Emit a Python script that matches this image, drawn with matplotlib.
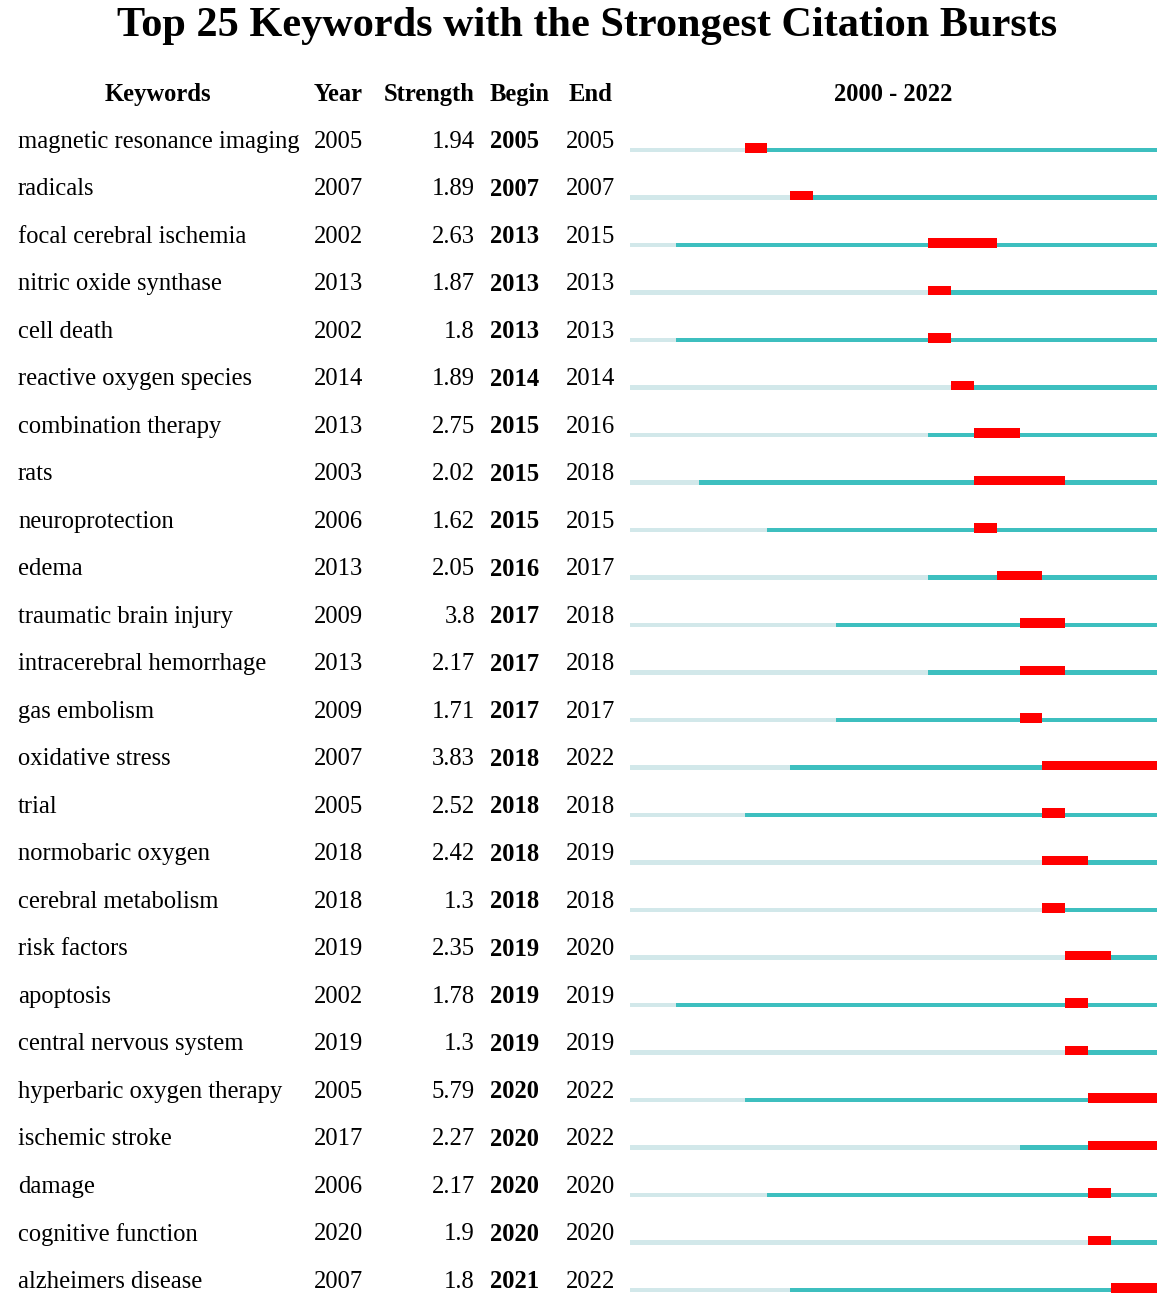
import matplotlib
matplotlib.use('Agg')
import matplotlib.pyplot as plt

# Datos de la tabla de ráfagas de citas
keywords = ['magnetic resonance imaging', 'radicals', 'focal cerebral ischemia',
            'nitric oxide synthase', 'cell death', 'reactive oxygen species',
            'combination therapy', 'rats', 'neuroprotection', 'edema',
            'traumatic brain injury', 'intracerebral hemorrhage', 'gas embolism',
            'oxidative stress', 'trial', 'normobaric oxygen', 'cerebral metabolism',
            'risk factors', 'apoptosis', 'central nervous system',
            'hyperbaric oxygen therapy', 'ischemic stroke', 'damage',
            'cognitive function', 'alzheimers disease']
years = [2005, 2007, 2002, 2013, 2002, 2014, 2013, 2003, 2006, 2013,
         2009, 2013, 2009, 2007, 2005, 2018, 2018, 2019, 2002, 2019,
         2005, 2017, 2006, 2020, 2007]
strength = ['1.94', '1.89', '2.63', '1.87', '1.8', '1.89', '2.75', '2.02', '1.62', '2.05',
            '3.8', '2.17', '1.71', '3.83', '2.52', '2.42', '1.3', '2.35', '1.78', '1.3',
            '5.79', '2.27', '2.17', '1.9', '1.8']
begin = [2005, 2007, 2013, 2013, 2013, 2014, 2015, 2015, 2015, 2016,
         2017, 2017, 2017, 2018, 2018, 2018, 2018, 2019, 2019, 2019,
         2020, 2020, 2020, 2020, 2021]
end = [2005, 2007, 2015, 2013, 2013, 2014, 2016, 2018, 2015, 2017,
       2018, 2018, 2017, 2022, 2018, 2019, 2018, 2020, 2019, 2019,
       2022, 2022, 2020, 2020, 2022]
start_year, end_year = 2000, 2022

light = '#d2e8ea'
teal = '#3dbfbf'
red = '#ff0000'

W, H = 1170, 1311
fig = plt.figure(figsize=(W / 100, H / 100), dpi=100)

# filas: pixel y = 150 + 47.5 * fila
y_top = (0 - 150) / 47.5
y_bot = (H - 150) / 47.5

ax = fig.add_axes([0, 0, 1, 1])
ax.set_xlim(0, W)
ax.set_ylim(y_bot, y_top)
ax.axis('off')

bx = fig.add_axes([630 / W, 0, 527 / W, 1])
bx.set_xlim(start_year, end_year + 1)
bx.set_ylim(y_bot, y_top)
bx.axis('off')

font = 'Liberation Serif'
fs = 17.7

ax.text(587, -2.62, 'Top 25 Keywords with the Strongest Citation Bursts',
        ha='center', va='center', fontsize=30.4, fontweight='bold', family=font)

hy = -1.16
ax.text(158, hy, 'Keywords', ha='center', va='center', fontsize=fs, fontweight='bold', family=font)
ax.text(314, hy, 'Year', ha='left', va='center', fontsize=fs, fontweight='bold', family=font)
ax.text(475, hy, 'Strength', ha='right', va='center', fontsize=fs, fontweight='bold', family=font)
ax.text(490, hy, 'Begin', ha='left', va='center', fontsize=fs, fontweight='bold', family=font)
ax.text(569, hy, 'End', ha='left', va='center', fontsize=fs, fontweight='bold', family=font)
ax.text(893, hy, '%d - %d' % (start_year, end_year), ha='center', va='center',
        fontsize=fs, fontweight='bold', family=font)

for i, kw in enumerate(keywords):
    ty = i - 0.17
    ax.text(18, ty, kw, ha='left', va='center', fontsize=fs, family=font)
    ax.text(314, ty, str(years[i]), ha='left', va='center', fontsize=fs, family=font)
    ax.text(475, ty, strength[i], ha='right', va='center', fontsize=fs, family=font)
    ax.text(490, ty, str(begin[i]), ha='left', va='center', fontsize=fs, fontweight='bold', family=font)
    ax.text(566, ty, str(end[i]), ha='left', va='center', fontsize=fs, family=font)

    # barras de la línea temporal
    bx.barh(i, years[i] - start_year, left=start_year, height=0.105, color=light, linewidth=0)
    bx.barh(i, end_year + 1 - years[i], left=years[i], height=0.105, color=teal, linewidth=0)
    bx.barh(i - 0.042, end[i] + 1 - begin[i], left=begin[i], height=0.19, color=red, linewidth=0)

plt.savefig('out.png', dpi=100)
